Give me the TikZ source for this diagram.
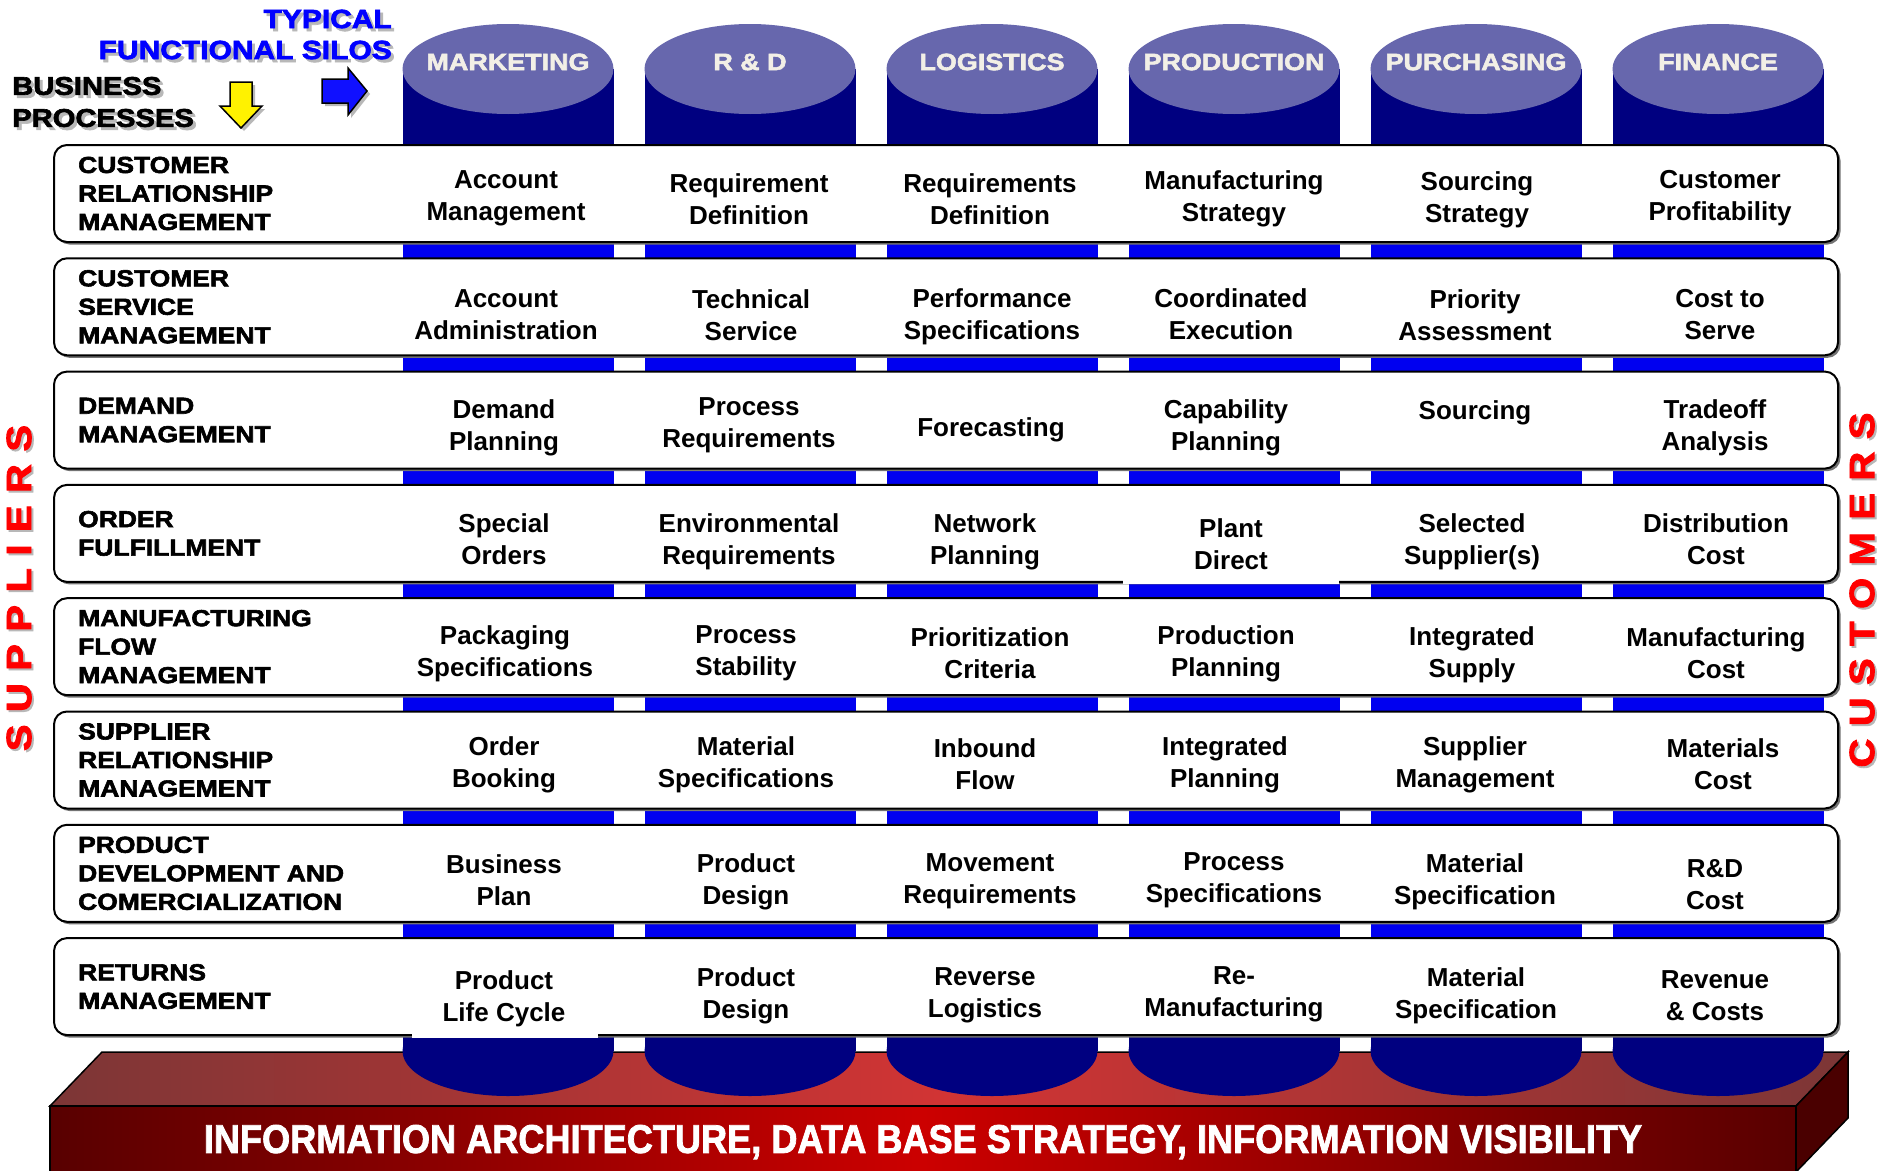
\documentclass[tikz,border=0pt]{standalone}
\usepackage{fontspec}
\usepackage{graphicx}
\setmainfont{Liberation Sans}
\newfontfamily\heavyfam[BoldFeatures={FakeBold=2.5,FakeStretch=1.14}]{Liberation Sans}
\newfontfamily\basefam[BoldFeatures={FakeBold=2}]{Liberation Sans}
\definecolor{navy}{HTML}{000080}
\definecolor{silotop}{HTML}{6767AD}
\definecolor{gapblue}{HTML}{0000F0}
\definecolor{silotxt}{HTML}{F2EFE6}
\definecolor{arrowblue}{HTML}{1010FF}
\definecolor{sidered}{HTML}{FF0000}
\definecolor{topedge}{HTML}{7C3636}
\definecolor{topmid}{HTML}{D23434}
\definecolor{frontedge}{HTML}{580000}
\definecolor{frontmid}{HTML}{CC0000}
\definecolor{sideface}{HTML}{4A0000}
\newcommand\cellfont{\fontsize{26}{32}\selectfont\bfseries}
\newcommand\lblfont{\heavyfam\fontsize{23.2}{28.5}\selectfont\bfseries}
\newcommand\silofont{\heavyfam\fontsize{23.6}{28}\selectfont\bfseries}
\newcommand\topfont{\heavyfam\fontsize{26.3}{31}\selectfont\bfseries}
\newcommand\bpfont{\heavyfam\fontsize{25.6}{32}\selectfont\bfseries}
\newcommand\sidefont{\heavyfam\fontsize{35}{40}\selectfont\bfseries}
\begin{document}
\begin{tikzpicture}[x=1pt,y=-1pt,
  rowbox/.style={draw=black, line width=2pt, fill=white, rounded corners=13pt},
  rowshadow/.style={fill=black!55, rounded corners=13pt},
  cell/.style={font=\cellfont, align=center, inner sep=0pt, text=black},
  rowlbl/.style={font=\lblfont, align=left, anchor=west, inner sep=0pt, text=black},
  silolbl/.style={font=\silofont, inner sep=0pt, text=silotxt},
  arrowshape/.style={draw=black, line width=1.5pt, line join=miter},
  txtshadow/.style={text=black!28}
]
\useasboundingbox (0,0) rectangle (1881,1170);
\fill[white] (0,0) rectangle (1881,1170);

% ---------- platform ----------
\shade[left color=topedge, right color=topedge, middle color=topmid, draw=black, line width=1.5pt]
  (50,1106) -- (102,1052) -- (1848,1052) -- (1796,1106) -- cycle;
\shade[left color=frontedge, right color=frontedge, middle color=frontmid, draw=black, line width=1.5pt]
  (50,1106) rectangle (1796,1176);
\filldraw[fill=sideface, draw=black, line width=1.5pt]
  (1796,1106) -- (1848,1052) -- (1848,1118) -- (1796,1172) -- cycle;
\node[inner sep=0pt, text=white] (base) at (923,1142)
  {\resizebox{1438pt}{28pt}{\basefam\bfseries INFORMATION ARCHITECTURE, DATA BASE STRATEGY, INFORMATION VISIBILITY}};

% ---------- silos ----------
\foreach \cx/\name [count=\i] in {508/MARKETING,750/R \& D,992/LOGISTICS,1234/PRODUCTION,1476/PURCHASING,1718/FINANCE}{
  \fill[navy] (\cx-105.5,69) rectangle (\cx+105.5,1051);
  \fill[navy] (\cx,1051) ellipse [x radius=105.5pt, y radius=45pt];
  \fill[gapblue] (\cx-105.5,150) rectangle (\cx+105.5,1030);
  \fill[silotop] (\cx,69) ellipse [x radius=105.5pt, y radius=45pt];
  \node[silolbl] (silo\i) at (\cx,62) {\name};
}

% ---------- process rows ----------
\foreach \t [count=\k] in {145,258.3,371.6,484.9,598.2,711.5,824.8,938.1}{
  \fill[rowshadow] (56.5,\t+2.5) rectangle (1840.5,\t+99.5);
  \draw[rowbox] (54,\t) rectangle (1838,\t+97);
}
% white text patches covering the border
\fill[white] (1123,576) rectangle (1339,583.5);
\fill[white] (412,1030) rectangle (598,1037.5);

% row labels
\foreach \y/\t [count=\i] in {
  193.5/{CUSTOMER\\RELATIONSHIP\\MANAGEMENT},
  306.8/{CUSTOMER\\SERVICE\\MANAGEMENT},
  420.1/{DEMAND\\MANAGEMENT},
  533.4/{ORDER\\FULFILLMENT},
  646.7/{MANUFACTURING\\FLOW\\MANAGEMENT},
  760.0/{SUPPLIER\\RELATIONSHIP\\MANAGEMENT},
  873.3/{PRODUCT\\DEVELOPMENT AND\\COMERCIALIZATION},
  986.6/{RETURNS\\MANAGEMENT}}{
  \node[rowlbl] (lbl\i) at (78,\y) {\t};
}

% cells
\begin{scope}[yshift=-3.5pt]
\foreach \x/\y/\t [count=\i] in {
  506/195/{Account\\Management}, 749/196/{Requirement\\Definition}, 990/196/{Requirements\\Definition},
  1234/195/{Manufacturing\\Strategy}, 1477/196/{Sourcing\\Strategy}, 1720/195/{Customer\\Profitability},
  506/311/{Account\\Administration}, 751/312/{Technical\\Service}, 992/313/{Performance\\Specifications},
  1231/311/{Coordinated\\Execution}, 1475/312/{Priority\\Assessment}, 1720/311/{Cost to\\Serve},
  504/424/{Demand\\Planning}, 749/422/{Process\\Requirements}, 991/426/{Forecasting},
  1226/424/{Capability\\Planning}, 1475/409/{Sourcing}, 1715/424/{Tradeoff\\Analysis},
  504/536/{Special\\Orders}, 749/538/{Environmental\\Requirements}, 985/538/{Network\\Planning},
  1231/541/{Plant\\Direct}, 1472/538/{Selected\\Supplier(s)}, 1716/536/{Distribution\\Cost},
  505/650/{Packaging\\Specifications}, 746/650/{Process\\Stability}, 990/650/{Prioritization\\Criteria},
  1226/650/{Production\\Planning}, 1472/651/{Integrated\\Supply}, 1716/650/{Manufacturing\\Cost},
  504/761/{Order\\Booking}, 746/761/{Material\\Specifications}, 985/761/{Inbound\\Flow},
  1225/761/{Integrated\\Planning}, 1475/761/{Supplier\\Management}, 1723/761/{Materials\\Cost},
  504/877/{Business\\Plan}, 746/878/{Product\\Design}, 990/878/{Movement\\Requirements},
  1234/877/{Process\\Specifications}, 1475/878/{Material\\Specification}, 1715/881/{R\&D\\Cost},
  504/995/{Product\\Life Cycle}, 746/992/{Product\\Design}, 985/992/{Reverse\\Logistics},
  1234/991/{Re-\\Manufacturing}, 1476/992/{Material\\Specification}, 1715/992/{Revenue\\\& Costs}}{
  \node[cell] (cell\i) at (\x,\y) {\t};
}
\end{scope}

% ---------- header texts & arrows ----------
\node[font=\topfont, anchor=east, inner sep=0pt, txtshadow] at (395,22) {TYPICAL};
\node[font=\topfont, anchor=east, inner sep=0pt, text=blue] (typ) at (392,19) {TYPICAL};
\node[font=\topfont, anchor=east, inner sep=0pt, txtshadow] at (395,53) {FUNCTIONAL SILOS};
\node[font=\topfont, anchor=east, inner sep=0pt, text=blue] (fs) at (392,50) {FUNCTIONAL SILOS};
\node[font=\bpfont, anchor=west, inner sep=0pt, txtshadow] at (15,89) {BUSINESS};
\node[font=\bpfont, anchor=west, inner sep=0pt, text=black] (bus) at (12,86) {BUSINESS};
\node[font=\bpfont, anchor=west, inner sep=0pt, txtshadow] at (15,121) {PROCESSES};
\node[font=\bpfont, anchor=west, inner sep=0pt, text=black] (proc) at (12,118) {PROCESSES};

\fill[black!28] (233,85) -- (255,85) -- (255,109) -- (265,109) -- (244,131) -- (223,109) -- (233,109) -- cycle;
\filldraw[arrowshape, fill=yellow] (230,82) -- (252,82) -- (252,106) -- (262,106) -- (241,128) -- (220,106) -- (230,106) -- cycle;
\fill[black!28] (325,82) -- (351,82) -- (351,71) -- (370,94) -- (351,118) -- (351,106) -- (325,106) -- cycle;
\filldraw[arrowshape, fill=arrowblue] (322,79) -- (348,79) -- (348,68) -- (367,91) -- (348,115) -- (348,103) -- (322,103) -- cycle;

% ---------- side texts ----------
\node[font=\sidefont, rotate=90, inner sep=0pt, txtshadow] at (21,590)
  {S\kern12.5pt U\kern12.5pt P\kern12.5pt P\kern12.5pt L\kern12.5pt I\kern12.5pt E\kern12.5pt R\kern12.5pt S};
\node[font=\sidefont, rotate=90, inner sep=0pt, text=sidered] (sup) at (19,588)
  {S\kern12.5pt U\kern12.5pt P\kern12.5pt P\kern12.5pt L\kern12.5pt I\kern12.5pt E\kern12.5pt R\kern12.5pt S};
\node[font=\sidefont, rotate=90, inner sep=0pt, txtshadow] at (1864,592)
  {C\kern12.5pt U\kern12.5pt S\kern12.5pt T\kern12.5pt O\kern12.5pt M\kern12.5pt E\kern12.5pt R\kern12.5pt S};
\node[font=\sidefont, rotate=90, inner sep=0pt, text=sidered] (cust) at (1862,590)
  {C\kern12.5pt U\kern12.5pt S\kern12.5pt T\kern12.5pt O\kern12.5pt M\kern12.5pt E\kern12.5pt R\kern12.5pt S};
\end{tikzpicture}
\end{document}
